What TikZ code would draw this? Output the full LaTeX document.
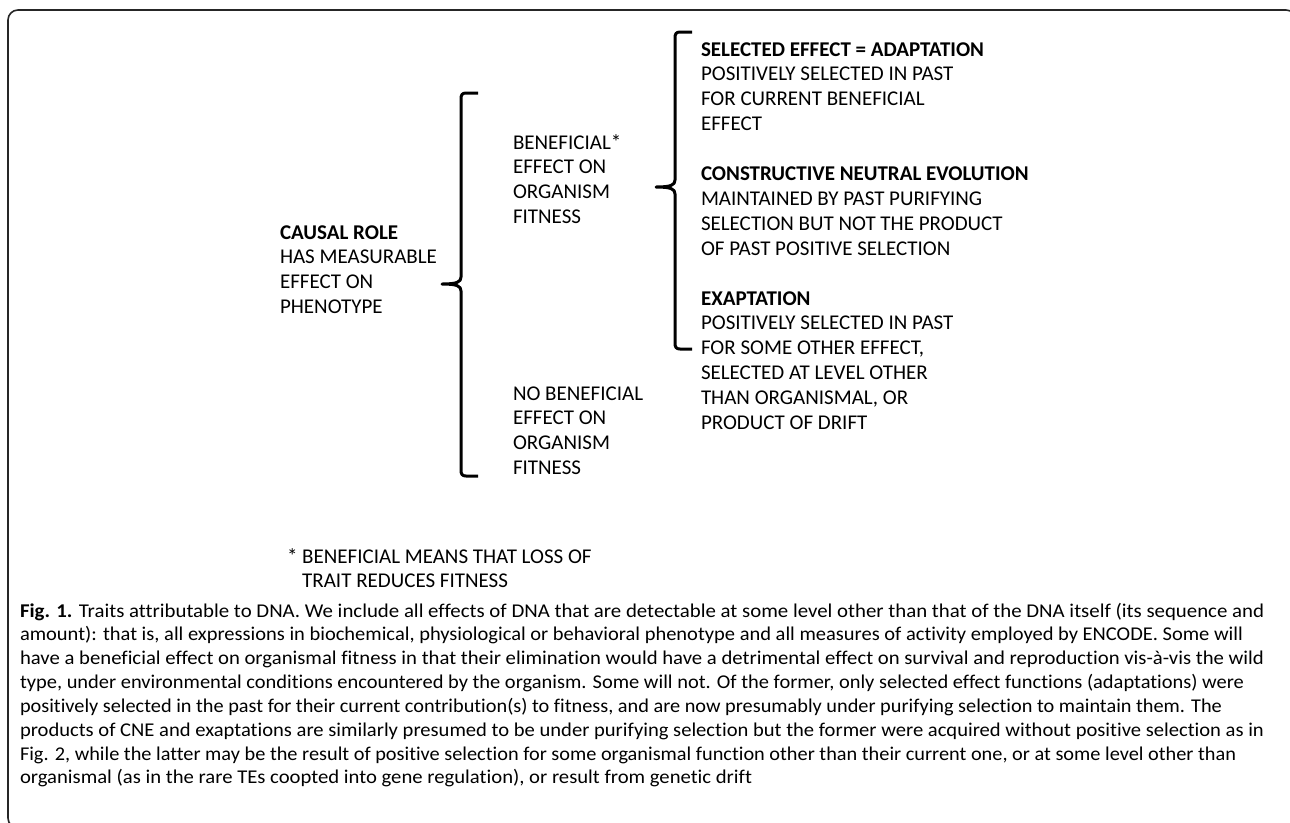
\documentclass[tikz,border=0pt]{standalone}
\usepackage{graphicx}
\usepackage{fontspec}
\setmainfont{Carlito}[Ligatures={NoCommon,NoDiscretionary}]
\newcommand\stacklines[1]{\vtop{\halign{##\hfil\cr#1\crcr}}}
\newcommand\fitto[2]{\resizebox{#1}{\height}{#2}}
\begin{document}
\begin{tikzpicture}[x=1pt,y=-1pt,
  diag/.style={inner sep=0pt, outer sep=0pt, anchor=base west, font=\fontsize{21}{24.9}\selectfont},
  captext/.style={inner sep=0pt, outer sep=0pt, anchor=base west, font=\fontsize{19.5}{23.85}\selectfont},
  bracepath/.style={line width=3pt, line join=round, line cap=butt},
  frame/.style={line width=1.6pt, rounded corners=10pt, draw=black!85}]
\useasboundingbox (0,0) rectangle (1290,822);
\begin{scope}
\clip (0,0) rectangle (1290,822);
\draw[frame] (8,10) rectangle (1296,828);
\end{scope}
% text blocks
\node[diag] (causal) at (280,239) {\stacklines{\textbf{CAUSAL ROLE}\cr HAS MEASURABLE\cr EFFECT ON\cr PHENOTYPE}};
\node[diag] (benef) at (513,149) {\stacklines{BENEFICIAL*\cr EFFECT ON\cr ORGANISM\cr FITNESS}};
\node[diag] (nobenef) at (513,400) {\stacklines{NO BENEFICIAL\cr EFFECT ON\cr ORGANISM\cr FITNESS}};
\node[diag] (kinds) at (701,56) {\stacklines{\textbf{SELECTED EFFECT = ADAPTATION}\cr POSITIVELY SELECTED IN PAST\cr FOR CURRENT BENEFICIAL\cr EFFECT\cr\cr \textbf{CONSTRUCTIVE NEUTRAL EVOLUTION}\cr MAINTAINED BY PAST PURIFYING\cr SELECTION BUT NOT THE PRODUCT\cr OF PAST POSITIVE SELECTION\cr\cr \textbf{EXAPTATION}\cr POSITIVELY SELECTED IN PAST\cr FOR SOME OTHER EFFECT,\cr SELECTED AT LEVEL OTHER\cr THAN ORGANISMAL, OR\cr PRODUCT OF DRIFT}};
\node[diag, font=\fontsize{21}{24}\selectfont] (note) at (287,563) {\stacklines{* BENEFICIAL MEANS THAT LOSS OF\cr \hphantom{* }TRAIT REDUCES FITNESS}};
% braces
\draw[bracepath] (478,93) -- (466,93) .. controls (462,93) and (461,95) .. (461,99)
  -- (461,277) .. controls (461,282) and (457,284) .. (442,284)
  .. controls (457,284) and (461,286) .. (461,291)
  -- (461,470) .. controls (461,474) and (462,476) .. (466,476) -- (478,476);
\draw[bracepath] (692,32) -- (680,32) .. controls (676,32) and (675,34) .. (675,38)
  -- (675,180) .. controls (675,185) and (671,187) .. (656,187)
  .. controls (671,187) and (675,189) .. (675,194)
  -- (675,343) .. controls (675,347) and (676,349) .. (680,349) -- (692,349);
% caption
\node[captext] (caption) at (20,617) {\stacklines{%
\fitto{1244pt}{\textbf{Fig. 1.} Traits attributable to DNA. We include all effects of DNA that are detectable at some level other than that of the DNA itself (its sequence and}\cr
\fitto{1223pt}{amount): that is, all expressions in biochemical, physiological or behavioral phenotype and all measures of activity employed by ENCODE. Some will}\cr
\fitto{1244pt}{have a beneficial effect on organismal fitness in that their elimination would have a detrimental effect on survival and reproduction vis-à-vis the wild}\cr
\fitto{1224pt}{type, under environmental conditions encountered by the organism. Some will not. Of the former, only selected effect functions (adaptations) were}\cr
\fitto{1202pt}{positively selected in the past for their current contribution(s) to fitness, and are now presumably under purifying selection to maintain them. The}\cr
\fitto{1244pt}{products of CNE and exaptations are similarly presumed to be under purifying selection but the former were acquired without positive selection as in}\cr
\fitto{1216pt}{Fig. 2, while the latter may be the result of positive selection for some organismal function other than their current one, or at some level other than}\cr
\fitto{732pt}{organismal (as in the rare TEs coopted into gene regulation), or result from genetic drift}}};
\end{tikzpicture}
\end{document}
